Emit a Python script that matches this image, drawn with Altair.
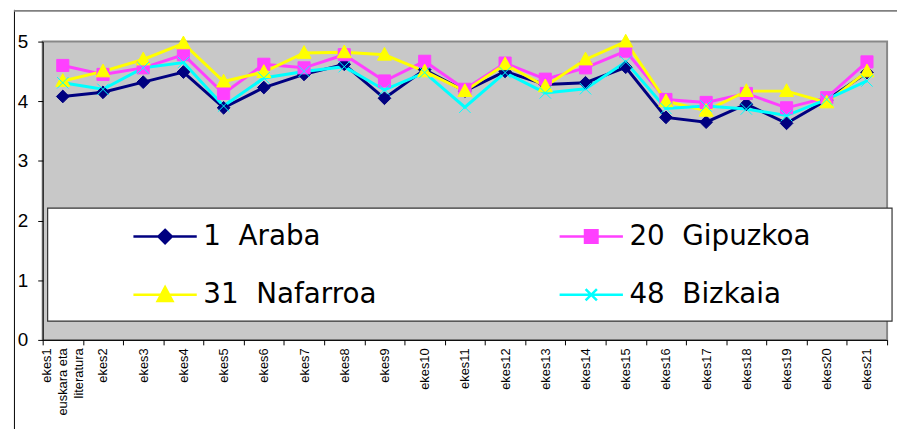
import altair as alt
import pandas as pd

categories = ["ekes1", "ekes2", "ekes3", "ekes4", "ekes5", "ekes6", "ekes7",
              "ekes8", "ekes9", "ekes10", "ekes11", "ekes12", "ekes13", "ekes14",
              "ekes15", "ekes16", "ekes17", "ekes18", "ekes19", "ekes20", "ekes21"]
first_label = ["ekes1", "euskara eta", "literatura"]

series = ["1\u00a0 Araba", "20\u00a0 Gipuzkoa", "31\u00a0 Nafarroa", "48\u00a0 Bizkaia"]
colors = ["#000080", "#FF40FF", "#FFFF00", "#00FFFF"]

araba = [4.08, 4.15, 4.32, 4.49, 3.89, 4.23, 4.45, 4.62, 4.05, 4.53, 4.17,
         4.50, 4.28, 4.31, 4.57, 3.73, 3.65, 3.95, 3.63, 4.02, 4.48]
gipuzkoa = [4.60, 4.45, 4.56, 4.78, 4.13, 4.62, 4.56, 4.78, 4.34, 4.67, 4.20,
            4.64, 4.37, 4.56, 4.84, 4.03, 3.98, 4.13, 3.89, 4.06, 4.66]
nafarroa = [4.34, 4.50, 4.70, 4.97, 4.33, 4.49, 4.81, 4.82, 4.78, 4.50, 4.17,
            4.62, 4.25, 4.70, 5.00, 4.00, 3.84, 4.17, 4.17, 3.98, 4.50]
bizkaia = [4.31, 4.20, 4.56, 4.65, 3.92, 4.39, 4.50, 4.58, 4.19, 4.48, 3.90,
           4.48, 4.14, 4.21, 4.66, 3.88, 3.92, 3.87, 3.76, 4.03, 4.34]

y_ticks = [0, 1, 2, 3, 4, 5]

# marker shapes (chart) and legend shapes (line + marker)
marker_paths = [
    "M0,-1L1,0L0,1L-1,0Z",
    "M-0.95,-0.95L0.95,-0.95L0.95,0.95L-0.95,0.95Z",
    "M0,-1.15L1.1,0.85L-1.1,0.85Z",
    "M-0.9,-0.9L0.9,0.9M-0.9,0.9L0.9,-0.9",
]
legend_paths = [
    "M-2.13,0L2.13,0M0,-0.45L0.45,0L0,0.45L-0.45,0Z",
    "M-2.13,0L2.13,0M-0.42,-0.42L0.42,-0.42L0.42,0.42L-0.42,0.42Z",
    "M-2.13,0L2.13,0M0,-0.52L0.5,0.42L-0.5,0.42Z",
    "M-2.13,0L2.13,0M-0.38,-0.38L0.38,0.38M-0.38,0.38L0.38,-0.38",
]

rows = []
for name, vals in zip(series, [araba, gipuzkoa, nafarroa, bizkaia]):
    for c, v in zip(categories, vals):
        rows.append({"cat": c, "series": name, "value": v})
df = pd.DataFrame(rows)

W, H = 852, 301

x_enc = alt.X(
    "cat:N",
    sort=categories,
    scale=alt.Scale(type="band", paddingInner=0, paddingOuter=0),
    axis=alt.Axis(
        title=None,
        labelAngle=270,
        labelAlign="right",
        labelBaseline="middle",
        labelFont="Liberation Sans",
        labelFontSize=13,
        labelColor="black",
        labelPadding=3,
        labelLineHeight=16,
        labelOverlap=False,
        labelOffset={"condition": {"test": "datum.value == 'ekes1'", "value": -16}, "value": 0},
        labelExpr="datum.value == 'ekes1' ? " + str(first_label) + " : datum.label",
        tickBand="extent",
        tickSize=5,
        tickColor="black",
        domainColor="black",
        grid=False,
    ),
)
y_enc = alt.Y(
    "value:Q",
    scale=alt.Scale(domain=[0, 5], nice=False, zero=True),
    axis=alt.Axis(
        title=None,
        values=y_ticks,
        labelFont="Liberation Sans",
        labelFontSize=19,
        labelColor="black",
        labelPadding=10,
        tickSize=5,
        tickColor="black",
        domainColor="black",
        grid=False,
    ),
)

one = pd.DataFrame({"k": [0]})

frame_left = alt.Chart(one).mark_rule(color="black", strokeWidth=1).encode(
    x=alt.value(-28.5), y=alt.value(-32), y2=alt.value(400)
)
frame_top = alt.Chart(one).mark_rule(color="#808080", strokeWidth=2).encode(
    y=alt.value(-31), x=alt.value(-29), x2=alt.value(880)
)
legend_box = alt.Chart(one).mark_rect(
    fill="white", stroke="#333333", strokeWidth=1.2
).encode(
    x=alt.value(5), x2=alt.value(857), y=alt.value(168), y2=alt.value(282)
)

lines = alt.Chart(df).mark_line(strokeWidth=3).encode(
    x=x_enc,
    y=y_enc,
    color=alt.Color("series:N", sort=series,
                    scale=alt.Scale(domain=series, range=colors), legend=None),
)

markers = alt.Chart(df).mark_point(filled=True, opacity=1, size=165).encode(
    x=x_enc,
    y=y_enc,
    shape=alt.Shape("series:N", scale=alt.Scale(domain=series, range=marker_paths), legend=None),
    fill=alt.Fill("series:N", scale=alt.Scale(domain=series, range=colors), legend=None),
    stroke=alt.Stroke("series:N", scale=alt.Scale(domain=series, range=colors), legend=None),
    strokeWidth=alt.StrokeWidth("series:N", scale=alt.Scale(domain=series, range=[1, 1, 1, 3.5]), legend=None),
)

leg = alt.Legend(
    title=None,
    orient="none",
    direction="horizontal",
    legendX=90,
    legendY=180,
    columns=2,
    columnPadding=179,
    rowPadding=28,
    padding=0,
    symbolSize=900,
    symbolOffset=17,
    labelOffset=22,
    symbolStrokeWidth=2.5,
    symbolOpacity=1,
    labelFont="DejaVu Sans",
    labelFontSize=28,
    labelColor="black",
    labelLimit=500,
)

legend_points = alt.Chart(df).mark_point(filled=True, opacity=0, strokeWidth=2.5).encode(
    x=x_enc,
    y=y_enc,
    shape=alt.Shape("series:N", scale=alt.Scale(domain=series, range=legend_paths), legend=leg),
    fill=alt.Fill("series:N", scale=alt.Scale(domain=series, range=colors), legend=leg),
    stroke=alt.Stroke("series:N", scale=alt.Scale(domain=series, range=colors), legend=leg),
)

chart = alt.layer(
    frame_left, frame_top, legend_box, lines, markers, legend_points
).resolve_scale(
    shape="independent", fill="independent", stroke="independent",
    strokeWidth="independent", color="independent"
).properties(
    width=W,
    height=H,
    autosize=alt.AutoSizeParams(type="none"),
    padding={"left": 35, "top": 32, "right": 10, "bottom": 88},
    background="white",
).configure_view(
    fill="#C8C8C8", stroke="#888888", strokeWidth=2
)

chart.save("out.html", embed_options={"renderer": "svg", "actions": False})
